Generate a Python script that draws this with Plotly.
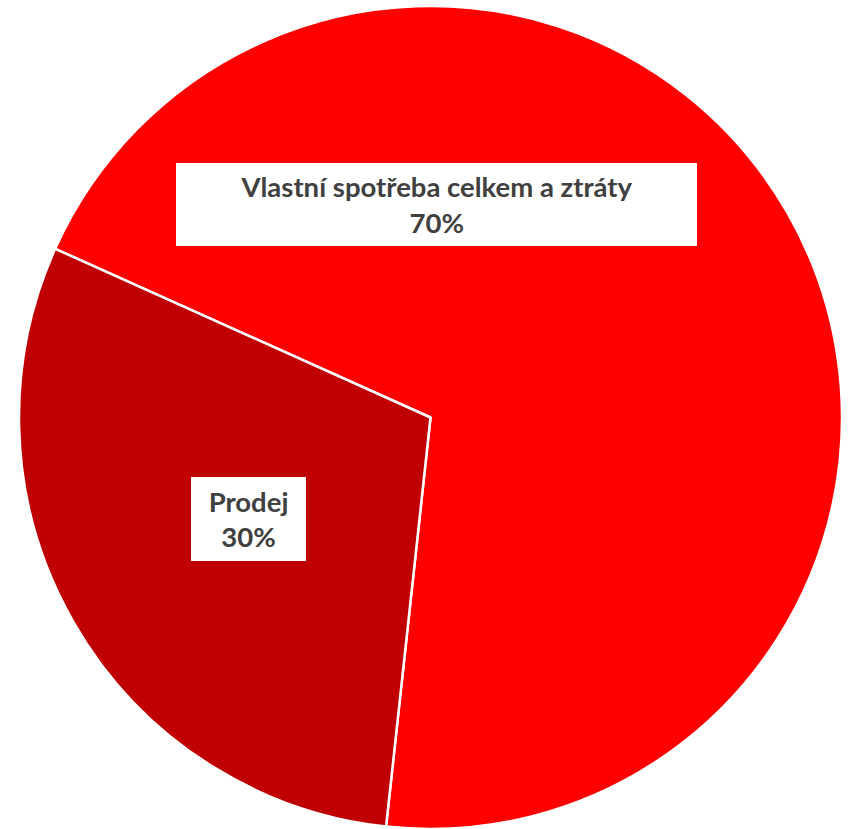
import plotly.graph_objects as go

labels = ["Vlastní spotřeba celkem a ztráty", "Prodej"]
values = [70, 30]
colors = ["#FF0000", "#C00000"]

W, H = 848, 829
cx, cy, r = 430.5, 417.5, 411.5

fig = go.Figure(go.Pie(
    labels=labels,
    values=values,
    sort=False,
    direction="clockwise",
    rotation=-65.8,
    marker=dict(colors=colors, line=dict(color="white", width=2.5)),
    textinfo="none",
    hoverinfo="label+percent",
    showlegend=False,
    domain=dict(x=[(cx - r) / W, (cx + r) / W], y=[max(0, 1 - (cy + r) / H), 1 - (cy - r) / H]),
))

total = sum(values)
boxes = [
    dict(cx=436.5, cy=204.5, w=521, h=83),
    dict(cx=248.5, cy=519, w=115, h=84),
]
annotations = []
for lab, v, b in zip(labels, values, boxes):
    annotations.append(dict(
        text=f"<b>{lab}<br>{round(100 * v / total)}%</b>",
        x=b["cx"] / W, y=1 - b["cy"] / H, xref="paper", yref="paper",
        xanchor="center", yanchor="middle", showarrow=False,
        width=b["w"], height=b["h"], bgcolor="white", borderpad=0, borderwidth=0,
        font=dict(family="Lato", size=27.5, color="#404040"),
        align="center", valign="middle",
    ))

fig.update_layout(
    width=W, height=H,
    margin=dict(l=0, r=0, t=0, b=0),
    paper_bgcolor="white", plot_bgcolor="white",
    annotations=annotations,
)

fig.write_html(
    "out.html",
    config={"displayModeBar": False},
    post_script="document.body.style.margin='0';document.body.style.overflow='hidden';",
)
